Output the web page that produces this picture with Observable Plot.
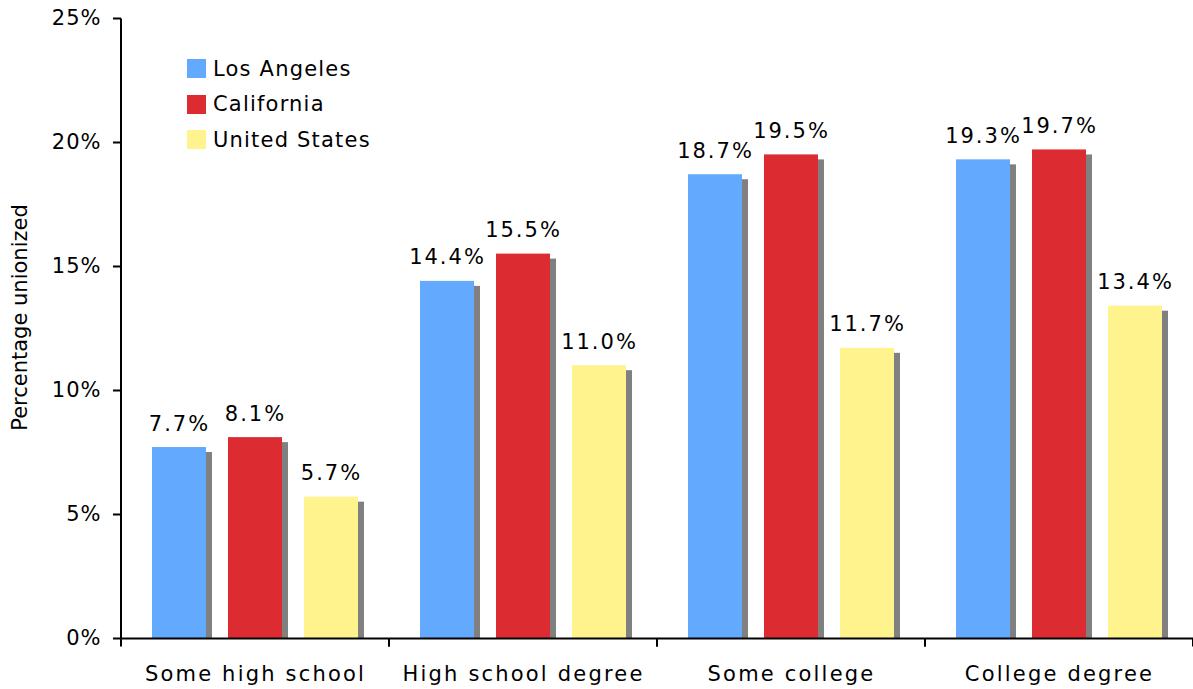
<!DOCTYPE html>
<html><head><meta charset="utf-8">
<script src="https://cdn.jsdelivr.net/npm/d3@7"></script>
<script src="https://cdn.jsdelivr.net/npm/@observablehq/plot@0.6"></script>
<style>
html,body{margin:0;padding:0;background:#fff;}
#wrap{position:relative;width:1193px;height:689px;font-family:"DejaVu Sans",Verdana,sans-serif;}
#legend{position:absolute;left:187px;top:51px;font-size:21px;color:#000;letter-spacing:1.2px;}
.row{display:flex;align-items:center;height:35.5px;}
.sw{width:19px;height:19px;margin-right:7px;}
g[aria-label="y-axis tick label"] text{letter-spacing:1px;}
g[aria-label="fx-axis tick label"] text{letter-spacing:2.2px;}
g[aria-label="text"] text{letter-spacing:2px;}
</style></head><body><div id="wrap"><div id="legend"></div></div>
<script>
const groups = ["Some high school","High school degree","Some college","College degree"];
const series = ["Los Angeles","California","United States"];
const losAngeles = [7.7,14.4,18.7,19.3];
const california = [8.1,15.5,19.5,19.7];
const unitedStates = [5.7,11.0,11.7,13.4];
const colors = ["#63a9fe","#dc2c32","#fff38e"];
const yTicks = [0,5,10,15,20,25];
const yTitle = "Percentage unionized";

const values = [losAngeles, california, unitedStates];
const data = groups.flatMap((g,gi)=>series.map((s,si)=>({group:g, series:s, value: values[si][gi]})));

const NS = "http://www.w3.org/2000/svg";
function boundaryTicks(index, scales, vals, dims, context, next) {
  const g = next(index, scales, vals, dims, context);
  const {marginTop:T, marginBottom:B, marginLeft:L, marginRight:R, width:W, height:H} = dims;
  const y0 = H - B;
  const add = (x1,y1,x2,y2) => {
    const l = document.createElementNS(NS,"line");
    l.setAttribute("x1",x1); l.setAttribute("y1",y1);
    l.setAttribute("x2",x2); l.setAttribute("y2",y2);
    l.setAttribute("stroke","#000"); l.setAttribute("stroke-width",2);
    g.appendChild(l);
  };
  add(L, y0, L, y0+8);
  add(W-R, y0, W-R, y0+8);
  if (Array.from(index).includes(0)) add(L, T, L, y0);
  return g;
}
function noSpacing(index, scales, vals, dims, context, next) {
  const g = next(index, scales, vals, dims, context);
  g.querySelectorAll("text").forEach(t => t.style.letterSpacing = "0px");
  return g;
}

const plot = Plot.plot({
  width:1193, height:689, marginLeft:120, marginRight:0, marginTop:18, marginBottom:51,
  style:{fontFamily:"DejaVu Sans, Verdana, sans-serif", fontSize:"21px", color:"#000", background:"#fff", overflow:"visible"},
  fx:{domain:groups, padding:0, label:null},
  x:{domain:series, paddingInner:0.286, paddingOuter:0.39, axis:null},
  y:{domain:[0,25], label:null},
  color:{domain:series, range:colors},
  marks:[
    Plot.axisY({ticks:yTicks, tickSize:8, tickPadding:12, tickFormat:d=>d+"%", strokeWidth:2, label:null, fontSize:21}),
    Plot.text([yTitle],{fx:()=>groups[0], text:d=>d, frameAnchor:"left", textAnchor:"middle", rotate:-90, dx:-101, dy:-11, fontSize:21, fill:"#000", render:noSpacing}),
    Plot.axisFx({anchor:"bottom", tickSize:0, tickPadding:28, label:null, fontSize:21}),
    Plot.rectY(data,{fx:"group", x:"series", y:"value", fill:"#808080", dx:6, insetTop:5}),
    Plot.rectY(data,{fx:"group", x:"series", y:"value", fill:"series"}),
    Plot.text(data,{fx:"group", x:"series", y:"value", text:d=>d.value.toFixed(1)+"%", lineAnchor:"bottom", dy:-17, fontSize:21, fill:"#000"}),
    Plot.ruleY(groups,{fx:d=>d, y:0, stroke:"#000", strokeWidth:2, render:boundaryTicks})
  ]
});
document.getElementById("wrap").prepend(plot);

const legend = document.getElementById("legend");
series.forEach((s,i)=>{
  const row = document.createElement("div"); row.className="row";
  const sw = document.createElement("div"); sw.className="sw"; sw.style.background=colors[i];
  const t = document.createElement("span"); t.textContent=s;
  row.append(sw,t); legend.append(row);
});
</script></body></html>
